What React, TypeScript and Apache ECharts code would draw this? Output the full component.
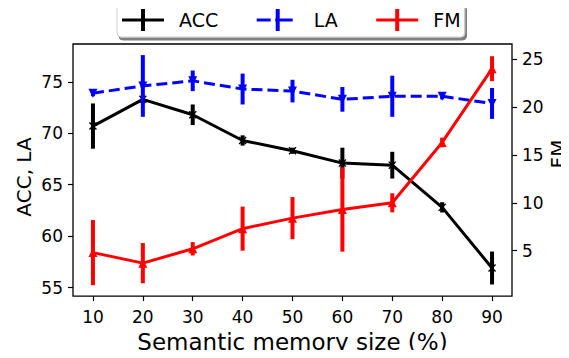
import React, { useEffect, useRef } from "react";
import * as echarts from "echarts";

const memorySizes = [10, 20, 30, 40, 50, 60, 70, 80, 90];
const accValues = [70.7, 73.3, 71.8, 69.3, 68.3, 67.1, 66.9, 62.8, 56.9];
const accErrors = [2.2, 0.4, 1.0, 0.5, 0.3, 1.5, 1.3, 0.5, 1.6];
const laValues = [73.9, 74.6, 75.1, 74.3, 74.1, 73.3, 73.6, 73.6, 72.9];
const laErrors = [0.3, 3.0, 1.0, 1.5, 1.1, 1.2, 2.0, 0.3, 1.5];
const fmValues = [4.8, 3.7, 5.2, 7.3, 8.4, 9.3, 10.0, 16.3, 24.0];
const fmErrors = [3.4, 2.1, 0.7, 2.3, 2.2, 4.4, 1.0, 0.5, 1.3];

const xTicks = [10, 20, 30, 40, 50, 60, 70, 80, 90];
const leftTicks = [55, 60, 65, 70, 75];
const rightTicks = [5, 10, 15, 20, 25];

const FONT = "DejaVu Sans";

const xMarker = "path://M0,1.2L1.2,0L5,3.8L8.8,0L10,1.2L6.2,5L10,8.8L8.8,10L5,6.2L1.2,10L0,8.8L3.8,5Z";
const triDown = "path://M0,0L10,0L5,8.66Z";

const iconSolid = "path://M0,9.5H42V12.5H0Z M19,0H23V22H19Z M51.9,10.9H52V11.1H51.9Z";
const iconDashed =
  "path://M0,9.5H14V12.5H0Z M18.5,9.5H36V12.5H18.5Z M19,0H23V22H19Z M51.9,10.9H52V11.1H51.9Z";

function errorSeries(values: number[], errors: number[], color: string, yAxisIndex: number) {
  return {
    type: "custom",
    yAxisIndex,
    silent: true,
    data: memorySizes.map((x, i) => [x, values[i] - errors[i], values[i] + errors[i]]),
    encode: { x: 0, y: [1, 2] },
    renderItem: (params: any, api: any) => {
      const p1 = api.coord([api.value(0), api.value(1)]);
      const p2 = api.coord([api.value(0), api.value(2)]);
      return {
        type: "line",
        shape: { x1: p1[0], y1: p1[1], x2: p2[0], y2: p2[1] },
        style: { stroke: color, lineWidth: 4 },
      };
    },
  };
}

export default function App() {
  const ref = useRef<HTMLDivElement>(null);

  useEffect(() => {
    if (!ref.current) return;
    const chart = echarts.init(ref.current, null, { renderer: "svg" });
    const axisLabelStyle = { color: "#000", fontSize: 17, fontFamily: FONT };
    const tickStyle = { color: "#000", width: 1.2 };
    chart.setOption({
      animation: false,
      backgroundColor: "#fff",
      textStyle: { fontFamily: FONT },
      grid: {
        left: 73,
        right: 57,
        top: 44,
        bottom: 59,
        show: true,
        borderColor: "#000",
        borderWidth: 1.3,
        backgroundColor: "transparent",
      },
      legend: {
        data: [
          { name: "ACC", icon: iconSolid },
          { name: "LA", icon: iconDashed },
          { name: "FM", icon: iconSolid },
        ],
        left: 117,
        top: 3,
        itemWidth: 52,
        itemHeight: 22,
        itemGap: 38.5,
        padding: [6, 4, 6, 5],
        backgroundColor: "#fff",
        borderColor: "#ccc",
        borderWidth: 1,
        borderRadius: 4,
        shadowColor: "rgba(0,0,0,0.5)",
        shadowOffsetX: 2,
        shadowOffsetY: 3,
        shadowBlur: 0,
        itemStyle: { borderWidth: 0 },
        textStyle: { fontSize: 19, color: "#000", fontFamily: FONT },
      },
      xAxis: {
        type: "value",
        min: 6,
        max: 94,
        name: "Semantic memory size (%)",
        nameLocation: "middle",
        nameGap: 32,
        nameTextStyle: { fontSize: 23, color: "#000", fontFamily: FONT },
        axisLine: { show: false },
        splitLine: { show: false },
        axisTick: { show: true, length: 5, lineStyle: tickStyle, customValues: xTicks },
        axisLabel: { ...axisLabelStyle, margin: 12, customValues: xTicks },
      },
      yAxis: [
        {
          type: "value",
          position: "left",
          min: 54.17,
          max: 78.68,
          axisLine: { show: false },
          splitLine: { show: false },
          axisTick: { show: true, length: 5, lineStyle: tickStyle, customValues: leftTicks },
          axisLabel: { ...axisLabelStyle, margin: 10, customValues: leftTicks },
        },
        {
          type: "value",
          position: "right",
          min: 0.26,
          max: 26.58,
          axisLine: { show: false },
          splitLine: { show: false },
          axisTick: { show: true, length: 5, lineStyle: tickStyle, customValues: rightTicks },
          axisLabel: { ...axisLabelStyle, margin: 10, customValues: rightTicks },
        },
      ],
      graphic: [
        {
          type: "text",
          x: 24,
          y: 177,
          rotation: Math.PI / 2,
          style: {
            text: "ACC, LA",
            fontSize: 20,
            fontFamily: FONT,
            fill: "#000",
            align: "center",
            verticalAlign: "middle",
          },
        },
        {
          type: "text",
          x: 558,
          y: 154,
          rotation: Math.PI / 2,
          style: {
            text: "FM",
            fontSize: 20,
            fontFamily: FONT,
            fill: "#000",
            align: "center",
            verticalAlign: "middle",
          },
        },
      ],
      series: [
        {
          name: "ACC",
          type: "line",
          yAxisIndex: 0,
          data: memorySizes.map((x, i) => [x, accValues[i]]),
          symbol: xMarker,
          symbolSize: 8,
          color: "#000",
          itemStyle: { color: "#000" },
          lineStyle: { color: "#000", width: 3 },
          z: 2,
        },
        { ...errorSeries(accValues, accErrors, "#000", 0), z: 2 },
        {
          name: "LA",
          type: "line",
          yAxisIndex: 0,
          data: memorySizes.map((x, i) => [x, laValues[i]]),
          symbol: triDown,
          symbolSize: 9,
          color: "#0000ff",
          itemStyle: { color: "#0000ff" },
          lineStyle: { color: "#0000ff", width: 3, type: [11, 5] },
          z: 3,
        },
        { ...errorSeries(laValues, laErrors, "#0000ff", 0), z: 3 },
        {
          name: "FM",
          type: "line",
          yAxisIndex: 1,
          data: memorySizes.map((x, i) => [x, fmValues[i]]),
          symbol: "triangle",
          symbolSize: 9,
          color: "#ff0000",
          itemStyle: { color: "#ff0000" },
          lineStyle: { color: "#ff0000", width: 3 },
          z: 4,
        },
        { ...errorSeries(fmValues, fmErrors, "#ff0000", 1), z: 4 },
      ],
    });
    return () => chart.dispose();
  }, []);

  return <div ref={ref} style={{ width: 569, height: 358, margin: -8 }} />;
}
